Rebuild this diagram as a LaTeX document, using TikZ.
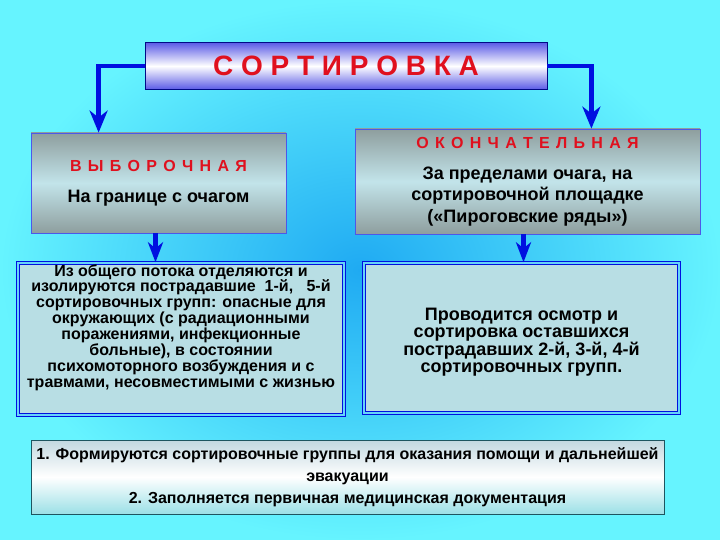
\documentclass[tikz,border=0pt]{standalone}
\usepackage{fontspec}
\setmainfont{Liberation Sans}
\usetikzlibrary{arrows.meta}
\definecolor{bginner}{HTML}{1FAAF2}
\definecolor{bgouter}{HTML}{66F4FF}
\definecolor{arrblue}{HTML}{0010E0}
\definecolor{titleblue}{HTML}{5A5AE6}
\definecolor{boxgray}{HTML}{8E9E9E}
\definecolor{boxlight}{HTML}{C2E4EA}
\definecolor{grpfill}{HTML}{B8DEE4}
\definecolor{noteedge}{HTML}{1E5560}
\definecolor{notegray}{HTML}{C2D8E0}
\definecolor{redtext}{HTML}{E0101E}
\newcommand{\spaced}[1]{{\color{redtext}\fontsize{16}{16}\selectfont\spaceskip=6.3pt #1}}
\begin{document}
\begin{tikzpicture}[x=1pt, y=-1pt, font=\bfseries]
\tikzstyle{title} = [draw=arrblue!60!black, line width=0.8pt, top color=titleblue, bottom color=titleblue, middle color=white, minimum width=402pt, minimum height=47pt, text=redtext, font=\fontsize{28}{30}\selectfont\bfseries]
\tikzstyle{kind} = [draw=arrblue!70, line width=0.8pt, top color=boxgray, bottom color=boxgray, middle color=boxlight, align=center, inner sep=0pt, font=\fontsize{18}{21.5}\selectfont\bfseries]
\tikzstyle{group} = [draw=arrblue, line width=1.4pt, double=arrblue!30!cyan!60, double distance=1.6pt, fill=grpfill, align=center, inner sep=0pt]
\tikzstyle{note} = [draw=noteedge, line width=0.8pt, top color=notegray, bottom color=notegray!80!cyan, middle color=white, minimum width=633pt, minimum height=74pt, align=center, font=\fontsize{16}{22}\selectfont\bfseries]
\tikzstyle{conn} = [draw=arrblue, line width=4.5pt, -{Stealth[length=22pt, width=18pt, inset=7pt]}]
\tikzstyle{short} = [draw=arrblue, line width=5pt, -{Stealth[length=20pt, width=15pt, inset=6pt]}]

\useasboundingbox (0,0) rectangle (720,540);
\shade[inner color=bginner, outer color=bgouter] (0,0) rectangle (720,540);

% nodes
\node[title] (sort) at (346,66) {С О Р Т И Р О В К А};
\node[kind, minimum width=255pt, minimum height=100pt] (sel) at (158.5,183) {\spaced{В Ы Б О Р О Ч Н А Я}\\[9.5pt] На границе с очагом};
\node[kind, minimum width=345pt, minimum height=105pt] (fin) at (527.5,181.5) {\spaced{О К О Н Ч А Т Е Л Ь Н А Я}\\[9.5pt] За пределами очага, на\\ сортировочной площадке\\ («Пироговские ряды»)};
\node[group, minimum width=326pt, minimum height=152pt] (grp1) at (181,339) {};
\node[font=\fontsize{16}{15.9}\selectfont\bfseries, align=center] (txt1) at ([yshift=11.5pt]grp1.center) {Из общего потока отделяются и\\ изолируются пострадавшие \ 1-й, \ \ 5-й\\ сортировочных групп: опасные для\\ окружающих (с радиационными\\ поражениями, инфекционные\\ больные), в состоянии\\ психомоторного возбуждения и с\\ травмами, несовместимыми с жизнью};
\node[group, minimum width=315pt, minimum height=150pt] (grp2) at (521.5,338) {};
\node[font=\fontsize{18}{17}\selectfont\bfseries, align=center] (txt2) at ([yshift=-4pt]grp2.center) {Проводится осмотр и\\ сортировка оставшихся\\ пострадавших 2-й, 3-й, 4-й\\ сортировочных групп.};
\node[note] (done) at (347.5,477) {1. Формируются сортировочные группы для оказания помощи и дальнейшей\\ эвакуации\\ 2. Заполняется первичная медицинская документация};

% connectors
\draw[conn] (sort.west) -| ([xshift=68pt]sel.north west);
\draw[conn] (sort.east) -| ([xshift=-109pt]fin.north east);
\draw[short] ([xshift=-3pt]sel.south) -- ([xshift=-3pt]sel.south |- grp1.north);
\draw[short] ([xshift=-4pt]fin.south) -- ([xshift=-4pt]fin.south |- grp2.north);
\end{tikzpicture}
\end{document}
